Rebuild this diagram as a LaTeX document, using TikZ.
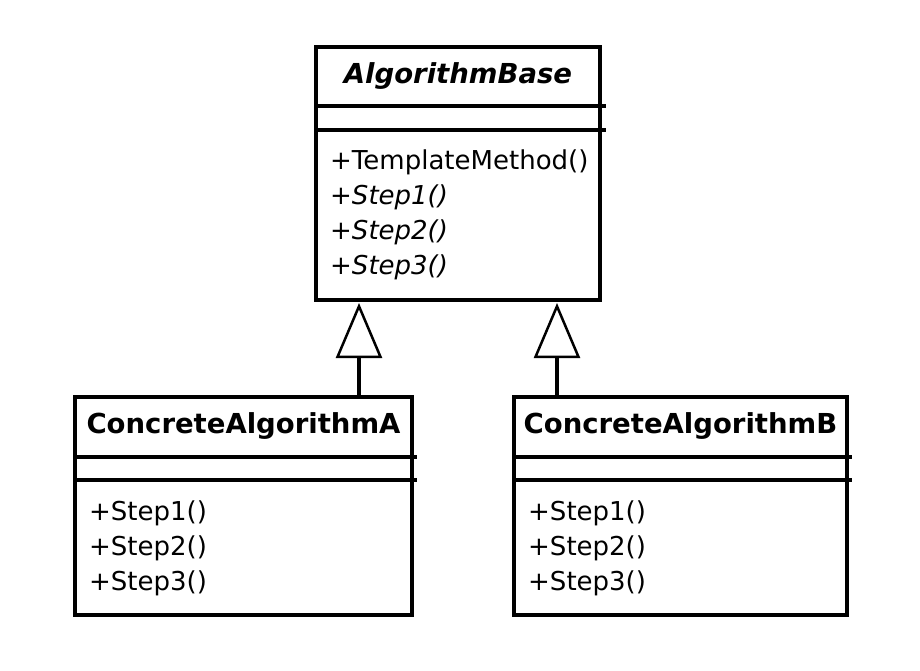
\documentclass[tikz,border=0pt]{standalone}
\usepackage{fontspec}
\setmainfont{DejaVu Sans}
\usetikzlibrary{arrows.meta}
\begin{document}
\begin{tikzpicture}[x=1pt,y=-1pt,
  cls/.style={draw, line width=4pt, inner sep=0pt, anchor=north west},
  divline/.style={line width=4pt},
  ctitle/.style={inner sep=0pt, font=\fontsize{27.5}{32}\selectfont\bfseries},
  ops/.style={inner sep=0pt, anchor=west, align=left, font=\fontsize{26}{35}\selectfont},
  inherit/.style={line width=3.5pt, -{Triangle[open, length=55pt, width=46pt, line width=2.5pt, fill=white]}, shorten >=1pt}
]
\fill[white] (0,0) rectangle (920,671);
\useasboundingbox (0,0) rectangle (920,671);

% AlgorithmBase
\node[cls, minimum width=284pt, minimum height=253pt] (base) at (314,45) {};
\draw[divline] ([yshift=-61pt]base.north west) -- ([yshift=-61pt,xshift=4pt]base.north east);
\draw[divline] ([yshift=-85pt]base.north west) -- ([yshift=-85pt,xshift=4pt]base.north east);
\node[ctitle] (basetitle) at ([yshift=-31pt]base.north) {\itshape AlgorithmBase};
\node[ops] (baseops) at ([xshift=16pt,yshift=-170pt]base.north west) {+TemplateMethod()\\\itshape +Step1()\\\itshape +Step2()\\\itshape +Step3()};

% ConcreteAlgorithmA
\node[cls, minimum width=337pt, minimum height=218pt] (ca) at (73,395) {};
\draw[divline] ([yshift=-62pt]ca.north west) -- ([yshift=-62pt,xshift=3pt]ca.north east);
\draw[divline] ([yshift=-85pt]ca.north west) -- ([yshift=-85pt,xshift=3pt]ca.north east);
\node[ctitle] (catitle) at ([yshift=-31pt]ca.north) {ConcreteAlgorithmA};
\node[ops] (caops) at ([xshift=16pt,yshift=-153pt]ca.north west) {+Step1()\\+Step2()\\+Step3()};

% ConcreteAlgorithmB
\node[cls, minimum width=333pt, minimum height=218pt] (cb) at (512,395) {};
\draw[divline] ([yshift=-62pt]cb.north west) -- ([yshift=-62pt,xshift=3pt]cb.north east);
\draw[divline] ([yshift=-85pt]cb.north west) -- ([yshift=-85pt,xshift=3pt]cb.north east);
\node[ctitle] (cbtitle) at ([yshift=-31pt]cb.north) {ConcreteAlgorithmB};
\node[ops] (cbops) at ([xshift=16pt,yshift=-153pt]cb.north west) {+Step1()\\+Step2()\\+Step3()};

% generalisations
\coordinate (ja) at (359,395);
\coordinate (jb) at (557,395);
\draw[inherit] (ja) -- (ja |- base.south);
\draw[inherit] (jb) -- (jb |- base.south);
\end{tikzpicture}
\end{document}
